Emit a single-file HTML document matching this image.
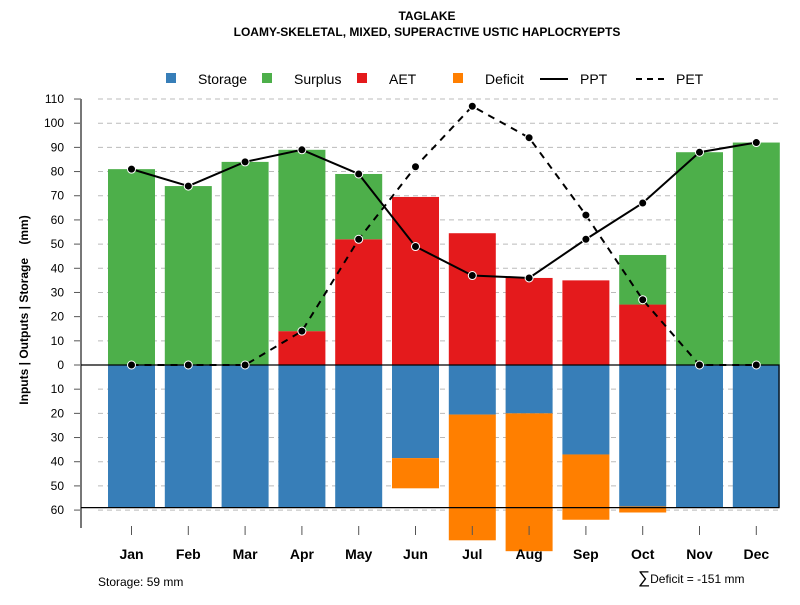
<!DOCTYPE html>
<html><head><meta charset="utf-8"><style>
body{margin:0;background:#fff;font-family:"Liberation Sans",sans-serif}
svg text{font-family:"Liberation Sans",sans-serif}
</style></head><body>
<svg id="c" width="800" height="600" xmlns="http://www.w3.org/2000/svg">
<text x="427" y="20" text-anchor="middle" font-size="12" font-weight="bold">TAGLAKE</text>
<text x="427" y="36" text-anchor="middle" font-size="12" font-weight="bold">LOAMY-SKELETAL, MIXED, SUPERACTIVE USTIC HAPLOCRYEPTS</text>
<g id="legend">
<rect x="166" y="73" width="10" height="10" fill="#377EB8"/>
<text x="198" y="84" font-size="14">Storage</text>
<rect x="262" y="73" width="10" height="10" fill="#4DAF4A"/>
<text x="294" y="84" font-size="14">Surplus</text>
<rect x="357" y="73" width="10" height="10" fill="#E41A1C"/>
<text x="389" y="84" font-size="14">AET</text>
<rect x="453" y="73" width="10" height="10" fill="#FF7F00"/>
<text x="485" y="84" font-size="14">Deficit</text>
<line x1="540" y1="79" x2="568" y2="79" stroke="#000" stroke-width="2"/>
<text x="580" y="84" font-size="14">PPT</text>
<line x1="636" y1="79" x2="664" y2="79" stroke="#000" stroke-width="2" stroke-dasharray="6,5"/>
<text x="676" y="84" font-size="14">PET</text>
</g>
<text transform="translate(28,310) rotate(-90)" text-anchor="middle" font-size="12" font-weight="bold">Inputs | Outputs | Storage&#160;&#160;&#160;&#160;(mm)</text>
<text x="98" y="586" font-size="12">Storage: 59 mm</text>
<text x="638" y="583" font-size="12"><tspan font-size="17">∑</tspan>Deficit = -151 mm</text>
</svg>
<script>
const months=["Jan","Feb","Mar","Apr","May","Jun","Jul","Aug","Sep","Oct","Nov","Dec"];
const storage=[59,59,59,59,59,38.5,20.5,20,37,58.5,59,59];
const deficit=[0,0,0,0,0,12.5,52,57,27,2.5,0,0];
const aet=[0,0,0,14,52,69.5,54.5,36,35,25,0,0];
const surplus=[81,74,84,75,27,0,0,0,0,20.5,88,92];
const ppt=[81,74,84,89,79,49,37,36,52,67,88,92];
const pet=[0,0,0,14,52,82,107,94,62,27,0,0];
const yTicks=[110,100,90,80,70,60,50,40,30,20,10,0,10,20,30,40,50,60];
const yTickVals=[110,100,90,80,70,60,50,40,30,20,10,0,-10,-20,-30,-40,-50,-60];
const storageMax=59;
const svg=document.getElementById('c');const NS="http://www.w3.org/2000/svg";
const y=v=>365-v*2.418;
const x=i=>131.5+i*56.8;
const bw=47;
function mk(t,a,p){const e=document.createElementNS(NS,t);for(const k in a)e.setAttribute(k,a[k]);(p||svg).appendChild(e);return e;}
const g=mk('g',{});


yTickVals.forEach((v,i)=>{
 const l=mk('line',{x1:98,x2:780,y1:y(v),y2:y(v),stroke:'#bbb','stroke-dasharray':'5,4'},g);
 
 
 const t=mk('line',{x1:74,x2:81,y1:y(v),y2:y(v),stroke:'#555'},g);
 
 
 const tx=mk('text',{x:64,y:y(v)+4,'text-anchor':'end','font-size':12},g);tx.textContent=yTicks[i];
 
 
});
const ax=mk('line',{x1:81,x2:81,y1:y(110),y2:528,stroke:'#777','stroke-width':2},g);


function bar(i,v0,v1,c,n){const r=mk('rect',{x:x(i)-bw/2,y:Math.min(y(v0),y(v1)),width:bw,height:Math.abs(y(v1)-y(v0)),fill:c},g);
 
 }
months.forEach((m,i)=>{
 if(aet[i])bar(i,0,aet[i],'#E41A1C','aet');
 if(surplus[i])bar(i,aet[i],aet[i]+surplus[i],'#4DAF4A','surplus');
 bar(i,0,-storage[i],'#377EB8','storage');
 if(deficit[i])bar(i,-storage[i],-storage[i]-deficit[i],'#FF7F00','deficit');
 const t=mk('line',{x1:x(i),x2:x(i),y1:526,y2:535,stroke:'#555'},g);
 
 
 const tx=mk('text',{x:x(i),y:559,'text-anchor':'middle','font-size':14,'font-weight':'bold'},g);tx.textContent=m;
 
 
});
const box=mk('path',{d:`M81 ${y(0)} H779 V${y(-storageMax)} H81`,fill:'none',stroke:'#000','stroke-width':1.2},g);


function line(arr,dash,n){
 const p=mk('polyline',{points:arr.map((v,i)=>x(i)+','+y(v)).join(' '),fill:'none',stroke:'#000','stroke-width':2,'stroke-dasharray':dash},g);
 
 
 arr.forEach((v,i)=>{const c=mk('circle',{cx:x(i),cy:y(v),r:4,fill:'#000',stroke:'#fff','stroke-width':1},g);
  
  });
}
line(pet,'7,6','pet');
line(ppt,'none','ppt');
</script>
</body></html>
